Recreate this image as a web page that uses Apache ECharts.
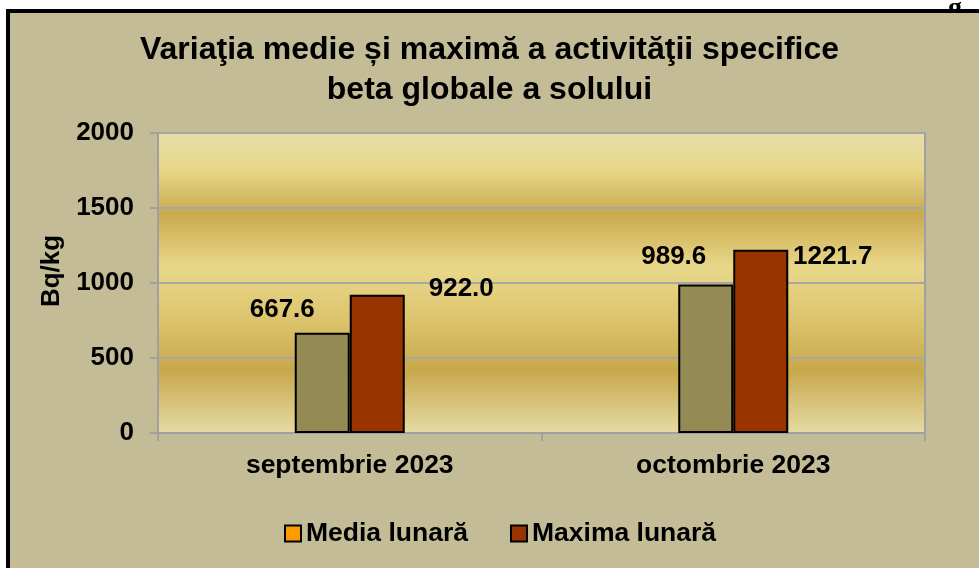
<!DOCTYPE html>
<html style="height: 100%">

<head>
    <meta charset="utf-8">
    <title>Variaţia medie şi maximă a activităţii specifice beta globale a solului</title>
    <script src="https://cdn.jsdelivr.net/npm/echarts@6/dist/echarts.min.js"></script>
</head>

<body style="height: 100%; margin: 0; background: #ffffff">
    <div id="chart" style="width: 979px; height: 568px"></div>

    <script>
        // date
        const categories = ['septembrie 2023', 'octombrie 2023'];
        const seriesNames = ['Media lunară', 'Maxima lunară'];
        const mediaValues = [667.6, 989.6];
        const maximaValues = [922.0, 1221.7];
        const yTicks = [0, 500, 1000, 1500, 2000];

        const font = "'Liberation Sans', Arial, sans-serif";

        // etichetele sunt mutate manual in original (ca in Excel)
        function withLabels(values, offsets) {
            return values.map((v, i) => ({
                value: v,
                label: { offset: offsets[i] }
            }));
        }

        const option = {
            backgroundColor: 'transparent',
            animation: false,
            graphic: [
                {
                    // cadrul negru + fundal
                    type: 'rect',
                    z: -10,
                    shape: { x: 8, y: 11, width: 1000, height: 600 },
                    style: { fill: '#C4BC96', stroke: '#000000', lineWidth: 4 }
                },
                {
                    // bucata de text taiata din pagina de deasupra
                    type: 'text',
                    z: -20,
                    left: 948,
                    top: -5,
                    style: {
                        text: 'g',
                        fill: '#000',
                        font: "bold 28px 'Liberation Serif', 'Times New Roman', serif"
                    }
                }
            ],
            title: {
                text: 'Variaţia medie și maximă a activităţii specifice\nbeta globale a solului',
                left: 'center',
                top: 25,
                textStyle: {
                    fontFamily: font,
                    fontSize: 32,
                    fontWeight: 'bold',
                    lineHeight: 40,
                    color: '#000'
                }
            },
            legend: {
                bottom: 16,
                left: 279,
                itemWidth: 16,
                itemHeight: 16,
                itemGap: 42,
                icon: 'rect',
                textStyle: {
                    fontFamily: font,
                    fontSize: 26.5,
                    fontWeight: 'bold',
                    color: '#000',
                    padding: [0, 0, 0, 0]
                },
                itemStyle: { borderColor: '#000', borderWidth: 2 },
                data: [
                    { name: seriesNames[0], itemStyle: { color: '#FF9900' } },
                    { name: seriesNames[1], itemStyle: { color: '#993300' } }
                ]
            },
            grid: {
                left: 158,
                right: 54,
                top: 133,
                bottom: 135,
                show: true,
                borderColor: '#A0A0A0',
                borderWidth: 2,
                backgroundColor: {
                    type: 'linear', x: 0, y: 0, x2: 0, y2: 1,
                    colorStops: [
                        { offset: 0, color: '#E6DDAA' },
                        { offset: 0.12, color: '#E9D88A' },
                        { offset: 0.27, color: '#C9AA4F' },
                        { offset: 0.45, color: '#E9D88A' },
                        { offset: 0.62, color: '#DCC46E' },
                        { offset: 0.79, color: '#C8A84C' },
                        { offset: 1, color: '#E6DCA6' }
                    ]
                }
            },
            xAxis: {
                type: 'category',
                data: categories,
                axisLine: { lineStyle: { color: '#A0A0A0', width: 2 } },
                axisTick: { show: true, length: 8, lineStyle: { color: '#A0A0A0', width: 2 } },
                axisLabel: {
                    margin: 19,
                    fontFamily: font,
                    fontSize: 26.5,
                    fontWeight: 'bold',
                    color: '#000'
                }
            },
            yAxis: {
                type: 'value',
                min: yTicks[0],
                max: yTicks[yTicks.length - 1],
                interval: yTicks[1] - yTicks[0],
                name: 'Bq/kg',
                nameLocation: 'middle',
                nameRotate: 90,
                nameGap: 93,
                nameTextStyle: {
                    fontFamily: font,
                    fontSize: 26,
                    fontWeight: 'bold',
                    color: '#000',
                    padding: [0, 0, 0, 24]
                },
                axisLine: { show: true, lineStyle: { color: '#A0A0A0', width: 2 } },
                axisTick: { show: true, length: 8, lineStyle: { color: '#A0A0A0', width: 2 } },
                splitLine: { lineStyle: { color: '#A6A6A6', width: 2 } },
                axisLabel: {
                    margin: 24,
                    formatter: v => String(v),
                    fontFamily: font,
                    fontSize: 26,
                    fontWeight: 'bold',
                    color: '#000'
                }
            },
            series: [
                {
                    name: seriesNames[0],
                    type: 'bar',
                    barWidth: 55,
                    barGap: '0%',
                    itemStyle: { color: '#948A54', borderColor: '#000', borderWidth: 2 },
                    label: {
                        show: true,
                        position: 'top',
                        formatter: p => p.value.toFixed(1),
                        fontFamily: font,
                        fontSize: 26,
                        fontWeight: 'bold',
                        color: '#000'
                    },
                    data: withLabels(mediaValues, [[-40, -5], [-32, -10]])
                },
                {
                    name: seriesNames[1],
                    type: 'bar',
                    barWidth: 55,
                    barGap: '0%',
                    itemStyle: { color: '#993300', borderColor: '#000', borderWidth: 2 },
                    label: {
                        show: true,
                        position: 'top',
                        formatter: p => p.value.toFixed(1),
                        fontFamily: font,
                        fontSize: 26,
                        fontWeight: 'bold',
                        color: '#000'
                    },
                    data: withLabels(maximaValues, [[84, 12], [72, 25]])
                }
            ]
        };

        const chart = echarts.init(document.getElementById('chart'), null, { renderer: 'canvas' });
        chart.setOption(option);
    </script>
</body>

</html>
